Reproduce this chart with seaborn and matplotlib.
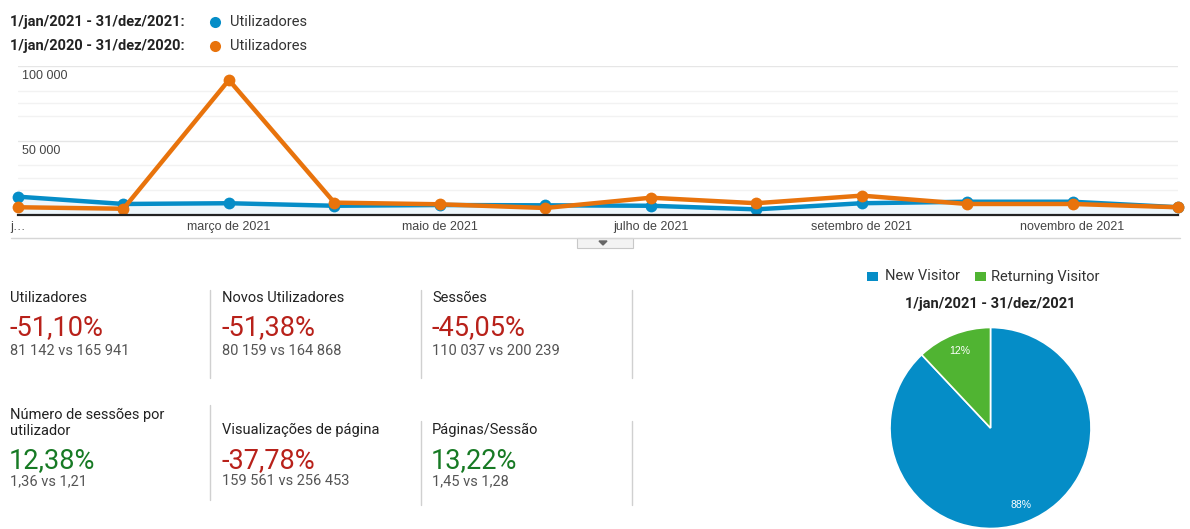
import matplotlib
matplotlib.use("Agg")
import matplotlib.pyplot as plt
import seaborn as sns
import pandas as pd
from matplotlib.patches import Rectangle, Polygon
from matplotlib.lines import Line2D

# data
months = ["jan", "fev", "mar", "abr", "mai", "jun", "jul", "ago", "set", "out", "nov", "dez"]
users_2021 = [12300, 7400, 7900, 6200, 6700, 6500, 6200, 3800, 7900, 8900, 8900, 5200]
users_2020 = [5200, 4200, 90600, 8300, 7200, 4700, 11600, 7900, 13000, 7400, 7400, 5200]
period_2021 = "1/jan/2021 - 31/dez/2021"
period_2020 = "1/jan/2020 - 31/dez/2020"
metric_name = "Utilizadores"

x_tick_pos = [0, 2, 4, 6, 8, 10]
x_tick_labels = ["j…", "março de 2021", "maio de 2021", "julho de 2021",
                 "setembro de 2021", "novembro de 2021"]
y_major = [50000, 100000]
y_major_labels = ["50 000", "100 000"]
y_minor = [16667, 25000, 33333, 66667, 75000, 83333]

card_titles = ["Utilizadores", "Novos Utilizadores", "Sessões",
               "Número de sessões por\nutilizador", "Visualizações de página", "Páginas/Sessão"]
card_changes = ["-51,10%", "-51,38%", "-45,05%", "12,38%", "-37,78%", "13,22%"]
card_compare = ["81 142 vs 165 941", "80 159 vs 164 868", "110 037 vs 200 239",
                "1,36 vs 1,21", "159 561 vs 256 453", "1,45 vs 1,28"]

visitor_types = ["New Visitor", "Returning Visitor"]
visitor_share = [88, 12]

BLUE = "#058dc7"
ORANGE = "#e8730c"
GREEN = "#50b432"
RED_TXT = "#b8211a"
GREEN_TXT = "#177a24"

W, H = 1190, 529

def fx(px):
    return px / W

def fy(py):
    return 1 - py / H

sns.set_theme(style="white")
plt.rcParams["font.family"] = ["Roboto", "DejaVu Sans"]

fig = plt.figure(figsize=(W / 100, H / 100), dpi=100)
fig.patch.set_facecolor("white")

# ---- line chart ----
ax = fig.add_axes([fx(18), fy(215), fx(1178) - fx(18), fy(66) - fy(215)])
df = pd.DataFrame({
    "idx": list(range(12)) * 2,
    "users": users_2021 + users_2020,
    "period": [period_2021] * 12 + [period_2020] * 12,
})
ax.fill_between(range(12), users_2021, color=BLUE, alpha=0.07, lw=0)
sns.lineplot(data=df, x="idx", y="users", hue="period",
             hue_order=[period_2021, period_2020], palette=[BLUE, ORANGE],
             marker="o", markersize=8.5, markeredgewidth=0, linewidth=3.2,
             legend=False, ax=ax, clip_on=False)
ax.set_xlim(0, 11)
ax.set_ylim(0, 100000)
ax.set_yticks(y_major)
ax.set_yticks(y_minor, minor=True)
ax.set_yticklabels([])
ax.tick_params(axis="y", length=0, which="both")
ax.grid(axis="y", which="major", color="#e6e6e6", lw=1)
ax.grid(axis="y", which="minor", color="#f2f2f2", lw=1)
ax.set_axisbelow(True)
ax.set_xticks(x_tick_pos, x_tick_labels)
ax.tick_params(axis="x", length=0, pad=4, labelsize=9, labelcolor="#444444")
for t in ax.get_xticklabels():
    t.set_family(["Liberation Sans", "DejaVu Sans"])
for v, lab in zip(y_major, y_major_labels):
    ax.annotate(lab, xy=(0, v), xycoords=("axes fraction", "data"),
                xytext=(3, -3), textcoords="offset points", va="top", ha="left",
                fontsize=9, color="#444444", family=["Liberation Sans", "DejaVu Sans"])
for s in ["top", "right", "left"]:
    ax.spines[s].set_visible(False)
ax.spines["bottom"].set_color("#222222")
ax.spines["bottom"].set_linewidth(1.6)
ax.set_xlabel("")
ax.set_ylabel("")
ax.patch.set_alpha(0)

# ---- header legend ----
for row_y, per, col in [(22, period_2021, BLUE), (46, period_2020, ORANGE)]:
    fig.text(fx(10), fy(row_y), per + ":", fontsize=10.5, weight="bold",
             color="#222222", va="center", ha="left")
    fig.add_artist(Line2D([fx(215)], [fy(row_y)], marker="o", markersize=8,
                          markeredgewidth=0, color=col, transform=fig.transFigure))
    fig.text(fx(230), fy(row_y), metric_name, fontsize=10.5, color="#333333",
             va="center", ha="left")

# ---- separator and tab under chart ----
fig.add_artist(Line2D([fx(11), fx(1180)], [fy(238), fy(238)], color="#d6d6d6",
                      lw=1, transform=fig.transFigure))
fig.add_artist(Rectangle((fx(577), fy(248)), fx(633) - fx(577), fy(238) - fy(248),
                         transform=fig.transFigure, facecolor="#f3f3f3",
                         edgecolor="#c8c8c8", lw=0.8))
fig.add_artist(Polygon([[fx(599), fy(241)], [fx(607), fy(241)], [fx(603), fy(245)]],
                       closed=True, transform=fig.transFigure, color="#666666"))

# ---- score cards ----
col_x = [10, 222, 432]
for i in range(6):
    r, c = divmod(i, 3)
    x0 = col_x[c]
    if r == 0:
        ty, by, sy = 298, 328, 351
    else:
        ty, by, sy = 430, 461, 481
    title = card_titles[i]
    if "\n" in title:
        fig.text(fx(x0), fy(ty + 8), title, fontsize=10.5, color="#222222",
                 va="bottom", ha="left", linespacing=1.15)
    else:
        fig.text(fx(x0), fy(ty), title, fontsize=10.5, color="#222222",
                 va="center", ha="left")
    col = RED_TXT if card_changes[i].startswith("-") else GREEN_TXT
    fig.text(fx(x0 - 1), fy(by), card_changes[i], fontsize=19.5, color=col,
             va="center", ha="left")
    fig.text(fx(x0), fy(sy), card_compare[i], fontsize=10.5, color="#555555",
             va="center", ha="left")

for sx, y0, y1 in [(210, 290, 378), (421, 290, 378), (632, 290, 378),
                   (210, 405, 500), (421, 421, 505), (632, 421, 505)]:
    fig.add_artist(Line2D([fx(sx), fx(sx)], [fy(y0), fy(y1)], color="#d0d0d0",
                          lw=1, transform=fig.transFigure))

# ---- pie ----
pax = fig.add_axes([fx(890), fy(529), fx(1091) - fx(890), fy(327) - fy(529)])
wedges, texts, autotexts = pax.pie(
    visitor_share, colors=[BLUE, GREEN], startangle=90, counterclock=False,
    autopct="%d%%", pctdistance=0.82,
    wedgeprops=dict(edgecolor="white", linewidth=1.2),
    textprops=dict(color="white", fontsize=7.5, family=["Liberation Sans", "DejaVu Sans"]))
pax.set_xlim(-1, 1)
pax.set_ylim(-1, 1)
pax.set_aspect("equal")
pax.axis("off")

fig.text(fx(990), fy(304), period_2021, fontsize=10.5, weight="bold",
         color="#222222", ha="center", va="center")
for sq_x, txt_x, lab, col in [(867, 885, visitor_types[0], BLUE),
                              (975, 991, visitor_types[1], GREEN)]:
    fig.add_artist(Rectangle((fx(sq_x), fy(281)), fx(11), fy(272) - fy(281),
                             transform=fig.transFigure, facecolor=col, edgecolor="none"))
    fig.text(fx(txt_x), fy(276.5), lab, fontsize=10.5, color="#333333",
             va="center", ha="left")

fig.savefig("out.png", dpi=100)
